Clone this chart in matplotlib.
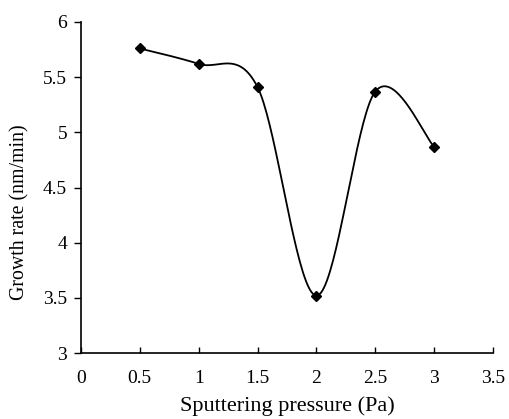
import matplotlib.pyplot as plt
import numpy as np

# data
pressure = [0.5, 1.0, 1.5, 2.0, 2.5, 3.0]
growth_rate = [5.76, 5.62, 5.41, 3.52, 5.37, 4.87]
x_ticks = [0, 0.5, 1, 1.5, 2, 2.5, 3, 3.5]
y_ticks = [3, 3.5, 4, 4.5, 5, 5.5, 6]


def smooth_curve(x, y, sx, sy, n=40):
    # Excel-like smoothed line (Catmull-Rom bezier), done in scaled space
    p = np.column_stack([np.asarray(x) * sx, np.asarray(y) * sy])
    pts = np.vstack([p[0], p, p[-1]])
    out = []
    t = np.linspace(0, 1, n)[:, None]
    for i in range(1, len(pts) - 2):
        p0, p1, p2, p3 = pts[i - 1], pts[i], pts[i + 1], pts[i + 2]
        c1 = p1 + (p2 - p0) / 6
        c2 = p2 - (p3 - p1) / 6
        seg = ((1 - t) ** 3) * p1 + 3 * ((1 - t) ** 2) * t * c1 + 3 * (1 - t) * t ** 2 * c2 + t ** 3 * p2
        out.append(seg)
    out = np.vstack(out)
    return out[:, 0] / sx, out[:, 1] / sy


def main() -> None:
    plt.rcParams['font.family'] = ['Liberation Serif']
    fig = plt.figure(figsize=(5.09, 4.19), dpi=100)
    ax = fig.add_axes([0.159, 0.1575, 0.8096, 0.79])

    # scale factors: pixels per data unit on each axis
    xs, ys = smooth_curve(pressure, growth_rate, 412 / 3.5, 331 / 3.0)
    ax.plot(xs, ys, color='black', lw=1.3)
    ax.plot(pressure, growth_rate, linestyle='none', marker='D', color='black', markersize=5.5)

    ax.set_xlim(0, 3.5)
    ax.set_ylim(3, 6)
    ax.set_xticks(x_ticks)
    ax.set_xticklabels(['0', '0.5', '1', '1.5', '2', '2.5', '3', '3.5'])
    ax.set_yticks(y_ticks)
    ax.set_yticklabels(['3', '3.5', '4', '4.5', '5', '5.5', '6'])
    ax.spines['top'].set_visible(False)
    ax.spines['right'].set_visible(False)
    ax.spines['left'].set_linewidth(1.2)
    ax.spines['bottom'].set_linewidth(1.2)
    ax.tick_params(axis='x', direction='in', length=4, width=1, labelsize=14, pad=12)
    ax.tick_params(axis='y', direction='out', length=5, width=1, labelsize=14, pad=5)
    ax.set_xlabel('Sputtering pressure (Pa)', fontsize=16, labelpad=7)
    ax.set_ylabel('Growth rate (nm/min)', fontsize=14.3)
    ax.yaxis.set_label_coords(-0.125, 0.426)

    fig.savefig('out.png', dpi=100)


if __name__ == "__main__":
    main()
